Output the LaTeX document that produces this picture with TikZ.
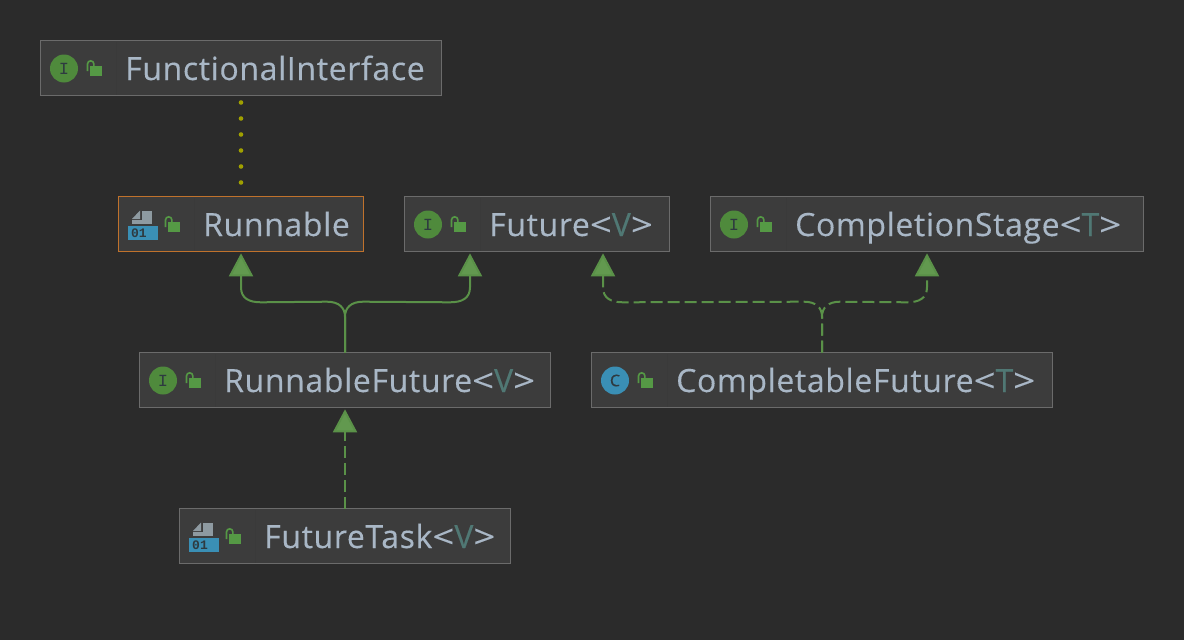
\documentclass[tikz,border=0pt]{standalone}
\usepackage{fontspec}
\setmainfont{Open Sans}[LetterSpace=2,FakeBold=0.25]
\newfontfamily\iconfont{Liberation Mono}
\usetikzlibrary{arrows.meta,calc}
\definecolor{bgc}{HTML}{2B2B2B}
\definecolor{boxc}{HTML}{3C3C3C}
\definecolor{edgec}{HTML}{6B6B6B}
\definecolor{sepc}{HTML}{3A3A3A}
\definecolor{orangec}{HTML}{C0722C}
\definecolor{txtc}{HTML}{A9B7C6}
\definecolor{genc}{HTML}{507874}
\definecolor{greenc}{HTML}{5A9148}
\definecolor{headc}{HTML}{62994F}
\definecolor{iconc}{HTML}{4F8A3C}
\definecolor{lockc}{HTML}{559945}
\definecolor{bluec}{HTML}{3A8FB5}
\definecolor{grayc}{HTML}{8E9AA1}
\definecolor{darkc}{HTML}{2E3A40}
\definecolor{dotc}{HTML}{A0A000}
\tikzset{
  classbox/.style={draw=edgec,fill=boxc,line width=1.3pt,inner sep=0pt,outer sep=0pt},
  classtxt/.style={anchor=base west,inner sep=0pt,text=txtc,font=\fontsize{32}{32}\selectfont},
  iconlbl/.style={inner sep=0pt,text=darkc},
  inherit/.style={draw=greenc,line width=2pt,-{Triangle[width=24pt,length=23pt,fill=headc]}},
  implement/.style={inherit,dash pattern=on 12pt off 5pt},
  dotline/.style={draw=dotc,line width=4.6pt,line cap=round,dash pattern=on 0pt off 16pt,dash phase=9pt}
}
\newcommand{\gen}[1]{\scalebox{1.2}[1]{<}\textcolor{genc}{#1}\scalebox{1.2}[1]{>}}
\newcommand{\lockicon}{%
  \fill[lockc] (49,25) rectangle (61,35);
  \draw[lockc,line width=1.6pt] (46.5,30) -- (46.5,23) arc[start angle=180,end angle=0,x radius=3.2,y radius=-3.2] -- (52.9,25);
}
\newcommand{\interfaceicon}{%
  \fill[iconc] (23,27.5) circle[radius=14];
  \node[iconlbl,font=\iconfont\fontsize{17}{17}\selectfont] at (23,27.5) {I};
}
\newcommand{\classicon}{%
  \fill[bluec] (23,27.5) circle[radius=14];
  \node[iconlbl,font=\fontsize{16}{16}\selectfont] at (23,27.5) {C};
}
\newcommand{\fileicon}{%
  \fill[grayc] (13,22) -- (21,13.5) -- (21,22) -- cycle;
  \fill[grayc] (22.5,13.5) rectangle (33,27);
  \fill[grayc] (13,23) rectangle (33,27);
  \fill[bluec] (9,29) rectangle (39,43);
  \node[iconlbl,font=\iconfont\bfseries\fontsize{13}{13}\selectfont] at (20,36) {01};
}
\newcommand{\boxdecor}[1]{\draw[sepc,line width=0.8pt] (75,1) -- (75,54);#1\lockicon}
\begin{document}
\begin{tikzpicture}[x=1pt,y=-1pt]
\useasboundingbox (0,0) rectangle (1184,640);
\fill[bgc] (0,0) rectangle (1184,640);
% boxes
\node[classbox,minimum width=400.6pt,minimum height=55pt] (fi) at (241,68) {};
\node[classbox,minimum width=244.6pt,minimum height=54.6pt] (run) at (241,224) {};
\draw[orangec,line width=1.3pt] (run.north west) rectangle (run.south east);
\node[classbox,minimum width=264.6pt,minimum height=54.6pt] (fut) at (537,224) {};
\node[classbox,minimum width=432.6pt,minimum height=54.6pt] (cs) at (927,224) {};
\node[classbox,minimum width=410.6pt,minimum height=54.6pt] (rf) at (345,380) {};
\node[classbox,minimum width=460.6pt,minimum height=54.6pt] (cf) at (822,380) {};
\node[classbox,minimum width=330.6pt,minimum height=54.6pt] (ft) at (345,536) {};
% decorations
\begin{scope}[shift={(41,41)}]\boxdecor{\interfaceicon}\end{scope}
\begin{scope}[shift={(119,197)}]\boxdecor{\fileicon}\end{scope}
\begin{scope}[shift={(405,197)}]\boxdecor{\interfaceicon}\end{scope}
\begin{scope}[shift={(711,197)}]\boxdecor{\interfaceicon}\end{scope}
\begin{scope}[shift={(140,353)}]\boxdecor{\interfaceicon}\end{scope}
\begin{scope}[shift={(592,353)}]\boxdecor{\classicon}\end{scope}
\begin{scope}[shift={(180,509)}]\boxdecor{\fileicon}\end{scope}
% labels
\node[classtxt] (tfi) at (125,80) {FunctionalInterface};
\node[classtxt] (trun) at (203,236) {Runnable};
\node[classtxt] (tfut) at (489,236) {Future\gen{V}};
\node[classtxt] (tcs) at (795,236) {CompletionStage\gen{T}};
\node[classtxt] (trf) at (224,392) {RunnableFuture\gen{V}};
\node[classtxt] (tcf) at (676,392) {CompletableFuture\gen{T}};
\node[classtxt] (tft) at (264,548) {FutureTask\gen{V}};
% connectors
\draw[dotline] (fi.south) -- (run.north);
\draw[inherit] (rf.north) -- ($(rf.north)+(0,-36)$)
  .. controls ($(rf.north)+(0,-45)$) and ($(rf.north)+(-6,-51)$) .. ($(rf.north)+(-18,-51)$)
  -- ($(run.south)+(20,51)$)
  .. controls ($(run.south)+(8,51)$) and ($(run.south)+(0,47)$) .. ($(run.south)+(0,36)$)
  -- ($(run.south)+(0,2)$);
\draw[inherit] (rf.north) -- ($(rf.north)+(0,-36)$)
  .. controls ($(rf.north)+(0,-45)$) and ($(rf.north)+(6,-51)$) .. ($(rf.north)+(18,-51)$)
  -- ($(fut.south)+(-87,51)$)
  .. controls ($(fut.south)+(-75,51)$) and ($(fut.south)+(-67,47)$) .. ($(fut.south)+(-67,36)$)
  -- ($(fut.south)+(-67,2)$);
\draw[implement] (cf.north) -- ($(cf.north)+(0,-36)$)
  .. controls ($(cf.north)+(0,-45)$) and ($(cf.north)+(-6,-51)$) .. ($(cf.north)+(-18,-51)$)
  -- ($(fut.south)+(86,51)$)
  .. controls ($(fut.south)+(74,51)$) and ($(fut.south)+(66,47)$) .. ($(fut.south)+(66,36)$)
  -- ($(fut.south)+(66,2)$);
\draw[implement] (cf.north) -- ($(cf.north)+(0,-36)$)
  .. controls ($(cf.north)+(0,-45)$) and ($(cf.north)+(6,-51)$) .. ($(cf.north)+(18,-51)$)
  -- ($(cs.south)+(-20,51)$)
  .. controls ($(cs.south)+(-8,51)$) and ($(cs.south)+(0,47)$) .. ($(cs.south)+(0,36)$)
  -- ($(cs.south)+(0,2)$);
\draw[implement] (ft.north) -- ($(rf.south)+(0,2)$);
\end{tikzpicture}
\end{document}
